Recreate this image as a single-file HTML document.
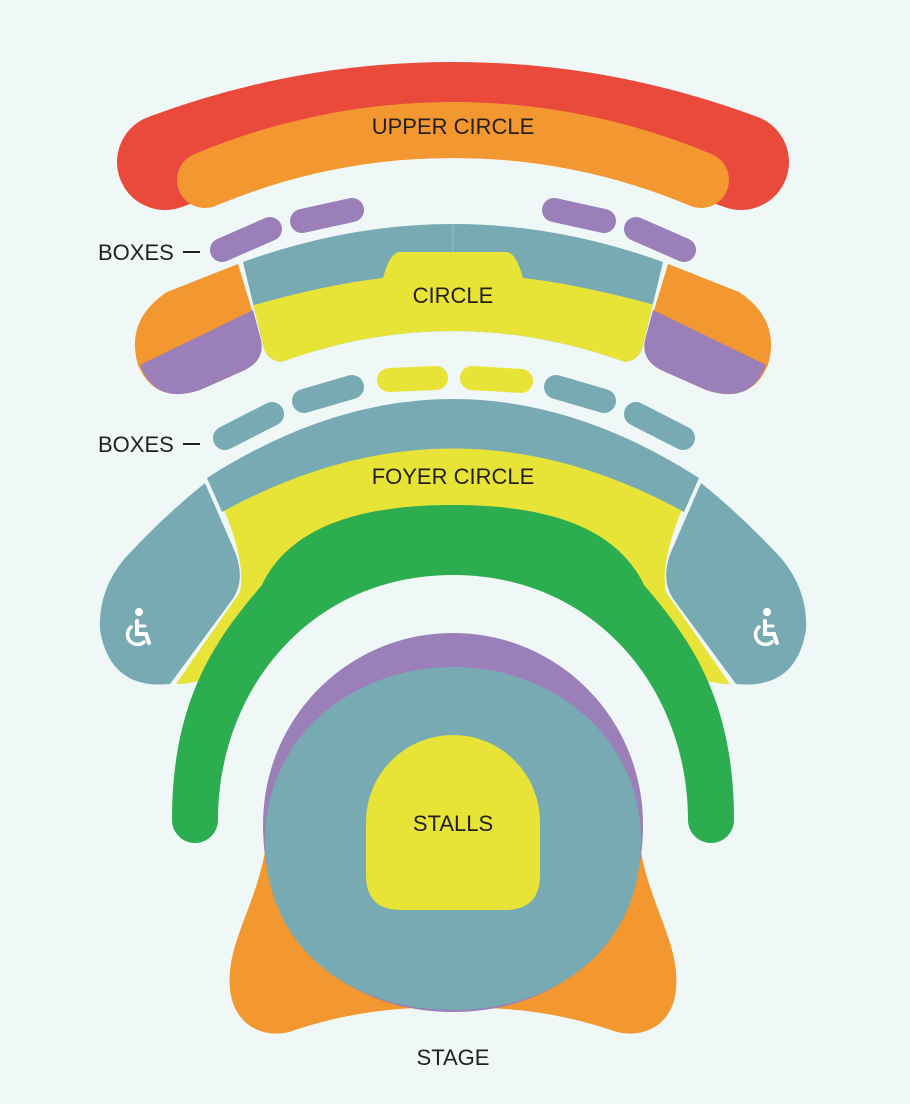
<!DOCTYPE html>
<html><head><meta charset="utf-8"><style>
html,body{margin:0;padding:0;background:#eff8f6;}
svg{display:block}
text{font-family:"Liberation Sans",sans-serif;fill:#231f20;font-size:22px;}
</style></head><body>
<svg width="910" height="1104" viewBox="0 0 910 1104" xmlns="http://www.w3.org/2000/svg">
<rect width="910" height="1104" fill="#eff8f6"/>
<path d="M165,162 A823,823 0 0 1 741,162" fill="none" stroke="#ea4a3c" stroke-width="96" stroke-linecap="round"/>
<path d="M205,180 A640,640 0 0 1 701,180" fill="none" stroke="#f39730" stroke-width="56" stroke-linecap="round"/>
<text x="453" y="134" text-anchor="middle">UPPER CIRCLE</text>
<g stroke="#9a7fb8" stroke-width="24" stroke-linecap="round" fill="none">
<path d="M222,250 L270,229"/><path d="M302,221 L352,210"/>
<path d="M554,210 L604,221"/><path d="M636,229 L684,250"/>
</g>
<text x="98" y="260">BOXES</text>
<rect x="183" y="251" width="17" height="2" fill="#231f20"/>
<defs>
<clipPath id="cb"><path d="M243,262 Q453,186 663,262 L643,345 Q640,360 625,362 Q453,300 281,362 Q266,360 263,345 Z"/></clipPath>
<g id="side">
<path d="M238,264 L261,340 Q265,360 245,370 L200,390 Q155,405 138,365 Q125,320 167,292 Z" fill="#f39730"/>
<path d="M140,365 L253,310 L261,340 Q265,360 245,370 L200,390 Q155,405 140,365 Z" fill="#9a7fb8"/>
</g>
<g id="fside">
<path d="M205,483 L235,552 Q246,580 232,600 L170,684 Q110,690 100,630 Q98,590 125,558 Q165,515 205,483 Z" fill="#78aab3"/>
</g>
<g id="wc" fill="none" stroke="#fff" stroke-linecap="round">
<circle cx="139" cy="612" r="4" fill="#fff" stroke="none"/>
<path d="M137,621 L137,634 L146,634 L149,643" stroke-width="4"/>
<path d="M137,626 L145,626" stroke-width="3"/>
<path d="M131,627 A9,9 0 1 0 144,642" stroke-width="3.5"/>
</g>
</defs>
<g clip-path="url(#cb)">
<rect x="230" y="200" width="450" height="200" fill="#78aab3"/>
<path d="M230,312 Q320,285 383,278 Q390,252 400,252 L506,252 Q516,252 523,278 Q586,285 680,312 L680,400 L230,400 Z" fill="#e8e337"/>
<rect x="452" y="200" width="1.5" height="52" fill="#8fb8bf"/>
</g>
<use href="#side"/>
<use href="#side" transform="translate(906,0) scale(-1,1)"/>
<text x="453" y="303" text-anchor="middle">CIRCLE</text>
<g stroke-width="24" stroke-linecap="round" fill="none">
<path d="M225,438 L272,414" stroke="#78aab3"/><path d="M304,401 L352,387" stroke="#78aab3"/>
<path d="M389,380 L436,378" stroke="#e8e337"/><path d="M472,378 L521,381" stroke="#e8e337"/>
<path d="M556,387 L604,401" stroke="#78aab3"/><path d="M636,414 L683,438" stroke="#78aab3"/>
</g>
<text x="98" y="452">BOXES</text>
<rect x="183" y="443" width="17" height="2" fill="#231f20"/>
<path d="M222,505 Q246,560 240,592 L176,684 Q215,684 240,650 L300,560 L606,560 L666,650 Q691,684 730,684 L666,592 Q660,560 684,505 Q453,385 222,505 Z" fill="#e8e337"/>
<path d="M207,478 Q453,320 699,478 L684,512 Q453,385 222,512 Z" fill="#78aab3"/>
<use href="#fside"/>
<use href="#fside" transform="translate(906,0) scale(-1,1)"/>
<use href="#wc"/>
<use href="#wc" transform="translate(628,0)"/>
<text x="453" y="484" text-anchor="middle">FOYER CIRCLE</text>
<path d="M172,820 C172,700 215,640 262,585 C292,522 370,505 453,505 C536,505 614,522 644,585 C691,640 734,700 734,820 A23,23 0 0 1 688,820 C688,690 596,575 453,575 C310,575 218,690 218,820 A23,23 0 0 1 172,820 Z" fill="#2cad50"/>
<path d="M268,830 C262,900 225,940 230,990 C235,1030 270,1040 295,1030 Q370,1005 453,1008 Q536,1005 611,1030 C636,1040 672,1030 676,990 C681,940 644,900 638,830 Z" fill="#f39730"/>
<path d="M453,633 C348,633 263,718 263,825 C263,945 350,1012 453,1012 C556,1012 643,945 643,825 C643,718 558,633 453,633 Z" fill="#9a7fb8"/>
<path d="M453,667 C350,667 265,740 265,840 C265,950 352,1010 453,1010 C554,1010 641,950 641,840 C641,740 556,667 453,667 Z" fill="#78aab3"/>
<path d="M366,822 A87,87 0 0 1 540,822 L540,875 Q540,910 505,910 L401,910 Q366,910 366,875 Z" fill="#e8e337"/>
<text x="453" y="831" text-anchor="middle">STALLS</text>
<text x="453" y="1065" text-anchor="middle">STAGE</text>
</svg>
</body></html>
